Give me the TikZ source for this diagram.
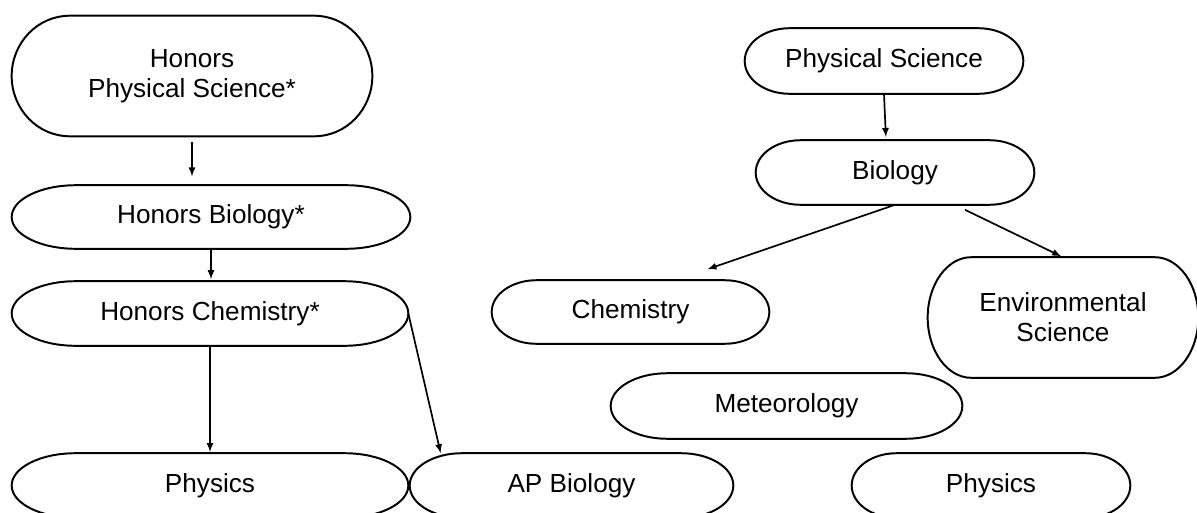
\documentclass[tikz,border=0pt]{standalone}
\usepackage{fontspec}
\setmainfont{Liberation Sans}
\usetikzlibrary{calc}

\begin{document}
\begin{tikzpicture}[x=0.025cm, y=-0.025cm,
	course/.style={inner sep=0pt, align=center, font=\fontsize{18.6}{21.3}\selectfont},
	outline/.style={line width=1.4pt},
	link/.style={->, >=latex, line width=1.2pt}]
	\useasboundingbox (0,0) rectangle (1197,513);
	\clip (0,0) rectangle (1197,513);

	% honors track
	\node[course, minimum width=9cm, minimum height=3cm] (hps) at (192,76)
		{Honors\\Physical Science*};
	\node[course, minimum width=9.95cm, minimum height=1.575cm] (hbio) at (211,217)
		{Honors Biology*};
	\node[course, minimum width=9.9cm, minimum height=1.6cm] (hchem) at (210,313.5)
		{Honors Chemistry*};
	\node[course, minimum width=9.9cm, minimum height=1.6cm] (phys1) at (210,485.5)
		{Physics};
	\node[course, minimum width=8.075cm, minimum height=1.6cm] (apbio) at (571.5,485.5)
		{AP Biology};

	% regular track
	\node[course, minimum width=6.95cm, minimum height=1.625cm] (ps) at (884,61)
		{Physical Science};
	\node[course, minimum width=6.95cm, minimum height=1.6cm] (bio) at (895,172.5)
		{Biology};
	\node[course, minimum width=6.925cm, minimum height=1.575cm] (chem) at (630.5,312)
		{Chemistry};
	\node[course, minimum width=6.75cm, minimum height=3cm] (env) at (1063,317.5)
		{Environmental\\Science};
	\node[course, minimum width=8.775cm, minimum height=1.625cm] (met) at (786.5,406)
		{Meteorology};
	\node[course, minimum width=6.95cm, minimum height=1.6cm] (phys2) at (991,485.5)
		{Physics};

	% terminator outlines
	\foreach \nm in {hps,hbio,hchem,phys1,apbio,ps,bio,chem,env,met,phys2}
		\draw[outline] let \p1=(\nm.north west), \p2=(\nm.south east),
			\n1={0.161*(\x2-\x1)}, \n2={(\y1-\y2)/2} in
			(\x1+\n1,\y1) -- (\x2-\n1,\y1)
			arc[start angle=90, end angle=-90, x radius=\n1, y radius=\n2]
			-- (\x1+\n1,\y2)
			arc[start angle=270, end angle=90, x radius=\n1, y radius=\n2] -- cycle;

	\coordinate (apbio-in) at ($(apbio.north west)+(31,0)$);
	\coordinate (bio-in) at ($(bio.north)+(-9,0)$);
	\coordinate (chem-in) at ($(chem.north)+(77,-11)$);
	\coordinate (bio-out) at ($(bio.south)+(70,5)$);

	\draw[link, shorten <=0.15cm, shorten >=0.22cm] (hps.south) -- (hps.south |- hbio.north);
	\draw[link, shorten >=0.05cm] (hbio.south) -- (hbio.south |- hchem.north);
	\draw[link, shorten >=0.03cm] (hchem.south) -- (hchem.south |- phys1.north);
	\draw[link] (hchem.east) -- (apbio-in);
	\draw[link, shorten >=0.08cm] (ps.south) -- (bio-in);
	\draw[link] (bio.south) -- (chem-in);
	\draw[link, shorten >=0.05cm] (bio-out) -- (env.north);
\end{tikzpicture}
\end{document}
